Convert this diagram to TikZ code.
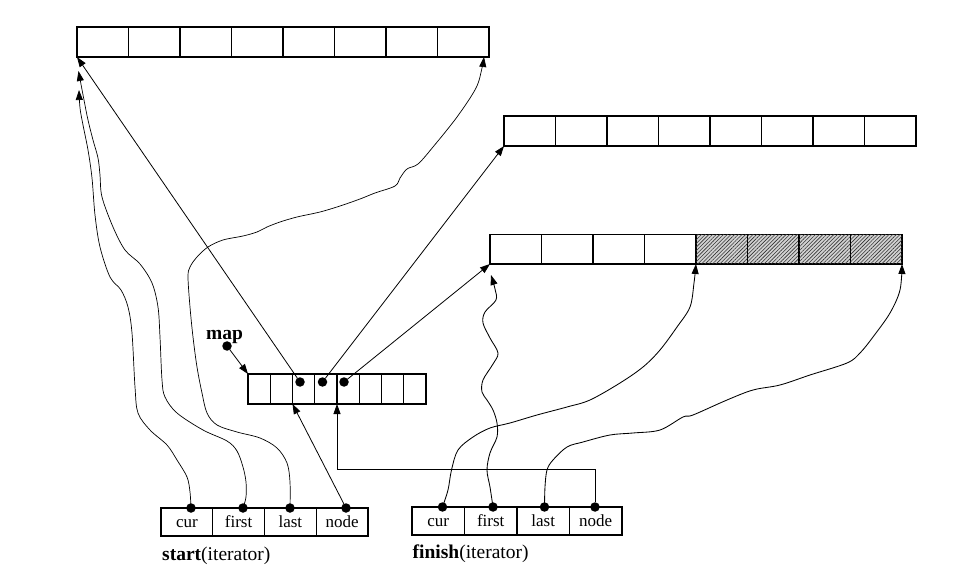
\documentclass[tikz,border=0pt]{standalone}
\usepackage{fontspec}
\setmainfont{Liberation Serif}
\usetikzlibrary{arrows.meta,patterns.meta}
\begin{document}
\begin{tikzpicture}[x=1pt,y=-1pt,
  cell/.style={draw,line width=1.3pt,inner sep=0pt,outer sep=0pt,anchor=north west},
  hatched/.style={fill=gray!35,postaction={pattern={Lines[angle=45,distance=2.6pt,line width=0.6pt]},pattern color=black!80}},
  dot/.style={circle,fill=black,inner sep=0pt,outer sep=0pt,minimum size=9.5pt},
  ptr/.style={line width=0.8pt,-{Triangle[length=10pt,width=7pt]}},
  wavy/.style={line width=0.7pt,-{Triangle[length=10pt,width=7pt]}},
  itxt/.style={font=\fontsize{17}{20}\selectfont,text height=12pt,text depth=1pt},
  lbl/.style={font=\fontsize{19.5}{23}\selectfont,anchor=base west,inner sep=0pt}]
\useasboundingbox (0,0) rectangle (962,572);

% buffers
\foreach \i in {1,...,8}{
  \node[cell,minimum width=51.5pt,minimum height=30pt] (a\i) at ({77+51.5*(\i-1)},27) {};
  \node[cell,minimum width=51.5pt,minimum height=30pt] (b\i) at ({504+51.5*(\i-1)},116) {};
  \node[cell,minimum width=22.25pt,minimum height=30pt] (m\i) at ({248+22.25*(\i-1)},374) {};
}
\foreach \i in {1,...,4}{
  \node[cell,minimum width=51.5pt,minimum height=29.5pt] (c\i) at ({490+51.5*(\i-1)},234.5) {};
}
\foreach \i in {5,...,8}{
  \node[cell,hatched,minimum width=51.5pt,minimum height=29.5pt] (c\i) at ({490+51.5*(\i-1)},234.5) {};
}

% iterators
\node[cell,itxt,minimum width=51.75pt,minimum height=28pt] (s1) at (161,508) {cur};
\node[cell,itxt,minimum width=51.75pt,minimum height=28pt] (s2) at (212.75,508) {first};
\node[cell,itxt,minimum width=51.75pt,minimum height=28pt] (s3) at (264.5,508) {last};
\node[cell,itxt,minimum width=51.75pt,minimum height=28pt] (s4) at (316.25,508) {node};
\node[cell,itxt,minimum width=52.5pt,minimum height=28pt] (f1) at (412,507) {cur};
\node[cell,itxt,minimum width=52.5pt,minimum height=28pt] (f2) at (464.5,507) {first};
\node[cell,itxt,minimum width=52.5pt,minimum height=28pt] (f3) at (517,507) {last};
\node[cell,itxt,minimum width=52.5pt,minimum height=28pt] (f4) at (569.5,507) {node};

\node[lbl] (startlbl) at (162,560) {\textbf{start}(iterator)};
\node[lbl] (finishlbl) at (412.5,558.5) {\textbf{finish}(iterator)};
\node[lbl] (maplbl) at (206,340) {\textbf{map}};

% dots
\node[dot] (mapdot) at (227,346) {};
\node[dot] (d3) at (300,382) {};
\node[dot] (d4) at (322.5,382) {};
\node[dot] (d5) at (344,382) {};
\node[dot] (scur) at (191,508) {};
\node[dot] (sfirst) at (243,508) {};
\node[dot] (slast) at (290,508) {};
\node[dot] (snode) at (346,508) {};
\node[dot] (fcur) at (442.5,507) {};
\node[dot] (ffirst) at (493,507) {};
\node[dot] (flast) at (544.5,507) {};
\node[dot] (fnode) at (595,507) {};

\coordinate (acur) at (79,90);
\coordinate (afirst) at (78.5,71);
\coordinate (alast) at (484,57);
\coordinate (cfirst) at (491,275);
\coordinate (fbend) at (595,469);

% straight pointers
\draw[ptr] (mapdot) -- (m1.north west);
\draw[ptr] (d3) -- (a1.south west);
\draw[ptr] (d4) -- (b1.south west);
\draw[ptr] (d5) -- (c1.south west);
\draw[ptr] (snode) -- (m3.south west);
\draw[ptr] (fnode) -- (fbend) -| (m4.south east);

% start iterator curves
\draw[wavy] plot[smooth,tension=0.55] coordinates {(scur) (190,492) (187,477) (177,460) (167,445) (150,430) (138,413) (135,387) (132,333) (128,307) (121,290) (110,277) (100,247) (95,215) (92,178) (88,150) (83,125) (80,108) (acur)};
\draw[wavy] plot[smooth,tension=0.55] coordinates {(sfirst) (246,497) (246,482) (243,467) (237,451) (227,441) (203,430) (177,413) (165,397) (162,380) (160,337) (158,307) (152,283) (140,264) (125,250) (113,227) (102,197) (100,175) (98,158) (93,140) (88,120) (84,100) (afirst)};
\draw[wavy] plot[smooth,tension=0.55] coordinates {(slast) (290,482) (287,463) (277,448) (260,438) (237,432) (217,425) (207,413) (202,393) (197,367) (193,337) (190,307) (188,277) (190,267) (197,257) (208,247) (223,240) (243,236) (257,232) (267,227) (280,222) (297,217) (320,212) (340,206) (360,199) (375,193) (395,186) (400,178) (407,169) (418,164) (433,147) (457,117) (476,88) (482,68) (alast)};

% finish iterator curves
\draw[wavy,line width=0.85pt] plot[smooth,tension=0.55] coordinates {(fcur) (448,490) (451.5,470) (458,450) (473,437) (490,428) (510,423) (537,415) (567,407) (590,400) (620,383) (643,367) (660,350) (677,327) (690,307) (694,283) (c5.south west)};
\draw[wavy,line width=0.85pt] plot[smooth,tension=0.55] coordinates {(ffirst) (490,487) (487,470) (490,453) (497,437) (497,423) (493,410) (487,400) (482,392) (483,380) (493,364) (498,353) (490,338) (483,323) (485,312) (496,300) (495,289) (cfirst)};
\draw[wavy,line width=0.85pt] plot[smooth,tension=0.55] coordinates {(flast) (545,487) (547,470) (553,460) (567,447) (583,442) (610,435) (633,433) (660,430) (683,417) (693,415) (727,400) (753,390) (780,385) (810,375) (847,363) (860,353) (873,337) (890,313) (900,290) (c8.south east)};
\end{tikzpicture}
\end{document}
